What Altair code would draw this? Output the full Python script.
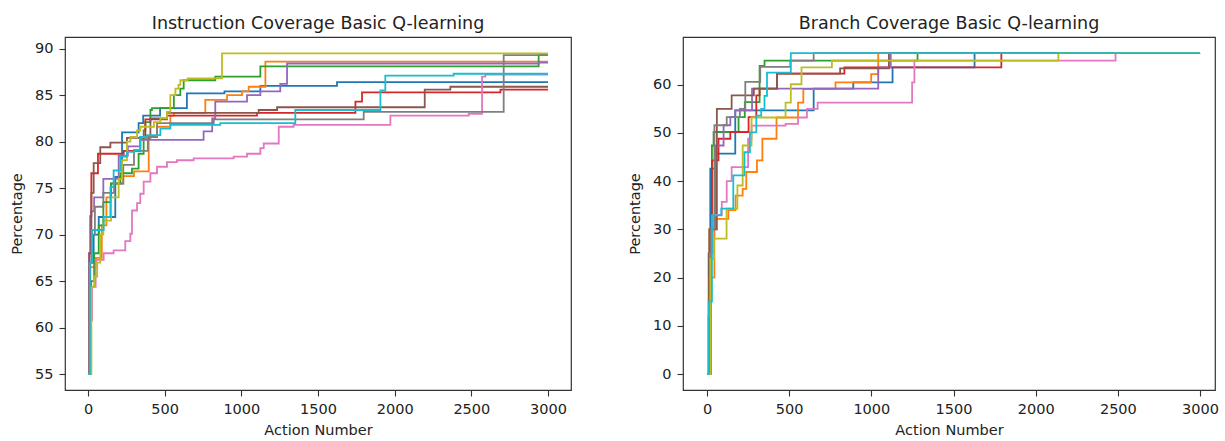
import altair as alt
import pandas as pd

# ---------------- data ----------------
RUNS = ["run 0", "run 1", "run 2", "run 3", "run 4",
        "run 5", "run 6", "run 7", "run 8", "run 9"]
COLORS = ["#1f77b4", "#ff7f0e", "#2ca02c", "#d62728", "#9467bd",
          "#8c564b", "#e377c2", "#7f7f7f", "#bcbd22", "#17becf"]
X_TICKS = [0, 500, 1000, 1500, 2000, 2500, 3000]
INSTR_Y_TICKS = [55, 60, 65, 70, 75, 80, 85, 90]
BRANCH_Y_TICKS = [0, 10, 20, 30, 40, 50, 60]
LAST_ACTION = 3000

# Instruction coverage, one step list (action, percentage) per run
INSTR_RUN0 = [(0, 55), (15, 67), (37, 70), (70, 71.9), (178, 76.2), (222, 81.0), (330, 82.0),
              (360, 82.8), (470, 83.6), (645, 85.2), (890, 85.4), (1124, 86.0), (1624, 86.4)]
INSTR_RUN1 = [(0, 55), (8, 66.5), (50, 67.5), (90, 71.0), (120, 74.0), (150, 75.5), (230, 76.3),
              (300, 76.8), (396, 80.5), (450, 81.6), (537, 82.8), (560, 83.1), (765, 84.5),
              (907, 85.0), (1004, 85.4), (1048, 85.9), (1157, 88.6)]
INSTR_RUN2 = [(0, 55), (20, 65), (40, 68), (70, 71), (100, 73.5), (150, 75.5), (211, 76.6),
              (287, 77.1), (330, 78.7), (363, 81.2), (374, 82.1), (407, 83.4), (417, 83.6),
              (560, 85.0), (602, 85.7), (624, 86.6), (830, 87.0), (1124, 88.1), (2939, 89.4)]
INSTR_RUN3 = [(0, 55), (8, 68), (15, 72), (22, 76.6), (65, 78.7), (233, 79.0), (341, 80.5),
              (374, 82.4), (515, 82.8), (1102, 83.1), (1744, 84.3), (1787, 85.3), (2690, 85.6)]
INSTR_RUN4 = [(0, 55), (8, 68), (20, 72.5), (40, 74.0), (100, 76.0), (200, 78.5), (260, 79.5),
              (341, 80.2), (754, 81.1), (810, 82.5), (830, 84.3), (1037, 85.0), (1124, 85.4),
              (1254, 86.2), (1298, 88.4), (2940, 88.5)]
INSTR_RUN5 = [(0, 55), (10, 68), (22, 74.5), (37, 77.7), (80, 79.4), (146, 79.9), (254, 80.4),
              (407, 82.5), (515, 83.1), (1113, 83.4), (1233, 83.7), (2196, 85.6), (2363, 85.9)]
INSTR_RUN6 = [(0, 55), (12, 60.8), (26, 64.4), (50, 67.3), (102, 68.0), (167, 68.3), (243, 69.3),
              (276, 70.1), (287, 72.6), (320, 73.4), (341, 74.4), (363, 75.7), (407, 76.6),
              (450, 77.3), (515, 77.8), (580, 78.0), (689, 78.2), (950, 78.4), (1037, 78.7),
              (1124, 79.3), (1146, 79.8), (1244, 81.6), (1341, 81.8), (1972, 82.8), (2483, 83.0),
              (2570, 87.0), (2591, 87.2)]
INSTR_RUN7 = [(0, 55), (10, 67), (25, 70), (45, 73), (100, 74.5), (170, 75.5), (230, 77.5),
              (300, 79.0), (390, 80.5), (450, 82.0), (820, 82.4), (1798, 83.2), (2711, 89.3)]
INSTR_RUN8 = [(0, 55), (22, 64.4), (40, 65.5), (60, 67), (80, 70), (100, 71.5), (150, 74),
              (200, 76), (222, 78), (254, 80.0), (276, 80.5), (320, 81.2), (341, 81.6),
              (430, 82.1), (472, 82.5), (515, 83.2), (537, 85.0), (570, 85.7), (590, 86.1),
              (602, 86.6), (650, 86.8), (874, 89.5)]
INSTR_RUN9 = [(0, 55), (12, 67), (26, 70.5), (102, 71.9), (146, 75.1), (167, 76.9), (211, 78.4),
              (254, 78.9), (300, 79.1), (341, 80.5), (385, 80.7), (472, 81.4), (537, 81.8),
              (863, 82.0), (1352, 83.4), (1907, 85.5), (1939, 87.1), (2385, 87.3)]

# Branch coverage, one step list (action, percentage) per run
BRANCH_RUN0 = [(0, 0), (10, 25), (20, 42.6), (50, 45.7), (172, 54.7), (649, 59.2), (890, 60.5),
               (1129, 63.6), (1628, 66.55)]
BRANCH_RUN1 = [(0, 0), (15, 20), (45, 32.2), (130, 34.0), (174, 37.0), (217, 38.4), (239, 41.9),
               (304, 44.3), (337, 48.8), (423, 53.2), (554, 56.3), (586, 59.1), (782, 60.5),
               (999, 62.2), (1042, 66.55)]
BRANCH_RUN2 = [(0, 0), (15, 30), (30, 47.4), (40, 50.2), (192, 53.3), (230, 56.4), (320, 63.9),
               (350, 65.0), (1281, 66.55)]
BRANCH_RUN3 = [(0, 0), (15, 30), (30, 44.3), (70, 48.8), (142, 50.2), (253, 53.3), (300, 57.8),
               (320, 59.2), (426, 62.3), (836, 63.6), (1791, 66.55)]
BRANCH_RUN4 = [(0, 0), (20, 30), (50, 47.4), (101, 51.6), (142, 53.3), (172, 54.7), (274, 59.2),
               (1042, 63.6), (1118, 66.55)]
BRANCH_RUN5 = [(0, 0), (20, 30), (60, 55.0), (150, 57.8), (285, 59.2), (426, 62.3), (810, 63.4),
               (1107, 66.55)]
BRANCH_RUN6 = [(0, 0), (8, 12), (20, 25), (35, 33), (90, 35.7), (120, 40.0), (150, 42.9),
               (250, 48.8), (271, 51.5), (478, 51.9), (554, 53.2), (608, 55.0), (673, 56.3),
               (1248, 60.5), (1262, 65.0), (2486, 66.55)]
BRANCH_RUN7 = [(0, 0), (25, 30), (45, 51.6), (120, 53.3), (200, 55.0), (233, 60.6), (324, 63.7),
               (507, 65.0), (649, 66.55)]
BRANCH_RUN8 = [(0, 0), (22, 23.9), (43, 28.1), (119, 34.3), (185, 39.1), (217, 47.4), (271, 53.2),
               (478, 56.3), (510, 60.1), (575, 63.6), (760, 65.0), (2138, 66.55)]
BRANCH_RUN9 = [(0, 0), (10, 15), (30, 32.9), (87, 34.3), (160, 41.2), (228, 46.0), (261, 50.1),
               (300, 53.6), (330, 55.0), (350, 57.7), (365, 62.5), (510, 66.55)]

INSTR_RUNS = [INSTR_RUN0, INSTR_RUN1, INSTR_RUN2, INSTR_RUN3, INSTR_RUN4,
              INSTR_RUN5, INSTR_RUN6, INSTR_RUN7, INSTR_RUN8, INSTR_RUN9]
BRANCH_RUNS = [BRANCH_RUN0, BRANCH_RUN1, BRANCH_RUN2, BRANCH_RUN3, BRANCH_RUN4,
               BRANCH_RUN5, BRANCH_RUN6, BRANCH_RUN7, BRANCH_RUN8, BRANCH_RUN9]


def table(runs):
    rows = []
    for name, steps in zip(RUNS, runs):
        for a, p in steps:
            rows.append({"run": name, "action": a, "pct": p})
        rows.append({"run": name, "action": LAST_ACTION, "pct": steps[-1][1]})
    return pd.DataFrame(rows)


FONT = "DejaVu Sans"


def panel(df, title, x_domain, y_domain, y_ticks, width):
    return (
        alt.Chart(df)
        .mark_line(interpolate="step-after", strokeWidth=1.8, clip=True)
        .encode(
            x=alt.X("action:Q",
                    scale=alt.Scale(domain=x_domain, nice=False, zero=False),
                    axis=alt.Axis(values=X_TICKS, title="Action Number", format="d")),
            y=alt.Y("pct:Q",
                    scale=alt.Scale(domain=y_domain, nice=False, zero=False),
                    axis=alt.Axis(values=y_ticks, title="Percentage", format="d")),
            color=alt.Color("run:N", scale=alt.Scale(domain=RUNS, range=COLORS), legend=None),
        )
        .properties(
            width=width,
            height=353,
            title=alt.TitleParams(title, fontSize=17.5, font=FONT, fontWeight="normal",
                                  color="#222222", anchor="middle", offset=5),
        )
    )


left = panel(table(INSTR_RUNS), "Instruction Coverage Basic Q-learning",
             [-150, 3150], [53.3, 91.25], INSTR_Y_TICKS, 506)
right = panel(table(BRANCH_RUNS), "Branch Coverage Basic Q-learning",
              [-146, 3091], [-3.31, 69.9], BRANCH_Y_TICKS, 532)

chart = (
    alt.hconcat(left, right, spacing=54)
    .properties(padding={"left": 8, "top": 13, "right": 0, "bottom": 0}, background="white")
    .configure_view(stroke="#333333", strokeWidth=1.2)
    .configure_axis(domain=False, grid=False, tickColor="#333333", tickSize=6, tickWidth=1.1,
                    labelFont=FONT, labelFontSize=14.5, labelColor="#222222", labelPadding=6,
                    titleFont=FONT, titleFontSize=14.5, titleFontWeight="normal",
                    titleColor="#222222")
    .configure_axisX(titlePadding=8)
    .configure_axisY(titlePadding=10.5)
)

chart.save("out.html", embed_options={"renderer": "svg", "actions": False})
